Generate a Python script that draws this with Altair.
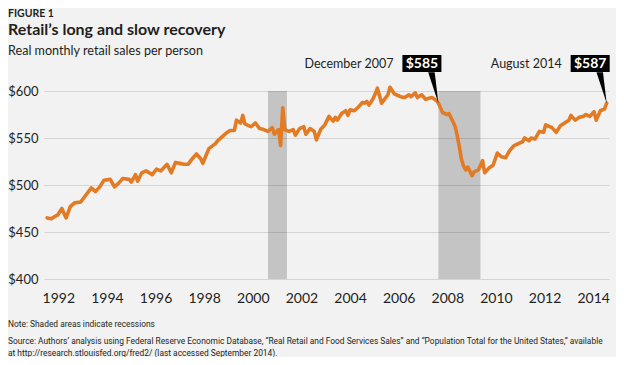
import altair as alt
import pandas as pd

# ---- data ----
MONTHS = [
    "1992-06", "1992-08", "1992-10", "1992-11", "1993-01", "1993-03", "1993-05", "1993-07",
    "1993-10", "1993-12", "1994-03", "1994-05", "1994-07", "1994-09", "1994-12", "1995-02",
    "1995-04", "1995-06", "1995-09", "1995-10", "1995-12", "1996-01", "1996-03", "1996-05",
    "1996-08", "1996-10", "1996-12", "1997-03", "1997-05", "1997-07", "1997-09", "1997-11",
    "1998-01", "1998-03", "1998-05", "1998-07", "1998-08", "1998-10", "1998-11", "1999-02",
    "1999-03", "1999-05", "1999-07", "1999-09", "1999-11", "1999-12", "2000-02", "2000-03",
    "2000-04", "2000-06", "2000-07", "2000-09", "2000-11", "2001-01", "2001-03", "2001-05",
    "2001-06", "2001-08", "2001-09", "2001-10", "2001-11", "2002-01", "2002-03", "2002-04",
    "2002-06", "2002-08", "2002-09", "2002-11", "2003-01", "2003-02", "2003-04", "2003-06",
    "2003-08", "2003-10", "2003-11", "2003-12", "2004-02", "2004-04", "2004-05", "2004-06",
    "2004-08", "2004-10", "2004-12", "2005-01", "2005-02", "2005-03", "2005-05", "2005-06",
    "2005-07", "2005-09", "2005-10", "2005-12", "2006-01", "2006-03", "2006-04", "2006-06",
    "2006-08", "2006-10", "2006-11", "2007-01", "2007-02", "2007-04", "2007-06", "2007-07",
    "2007-09", "2007-11", "2007-12", "2008-02", "2008-04", "2008-05", "2008-07", "2008-08",
    "2008-09", "2008-10", "2008-11", "2008-12", "2009-01", "2009-02", "2009-04", "2009-05",
    "2009-07", "2009-09", "2009-10", "2009-12", "2010-02", "2010-04", "2010-06", "2010-08",
    "2010-10", "2010-12", "2011-04", "2011-05", "2011-07", "2011-08", "2011-10", "2011-12",
    "2012-02", "2012-03", "2012-06", "2012-08", "2012-10", "2012-12", "2013-02", "2013-03",
    "2013-05", "2013-07", "2013-09", "2013-10", "2013-12", "2014-02", "2014-03", "2014-05",
    "2014-07", "2014-08",
]
VALUES = [
    465, 464, 467, 468, 475, 465, 477, 481,
    482, 488, 497, 493, 498, 505, 506, 498,
    502, 507, 506, 503, 511, 504, 513, 515,
    511, 517, 515, 522, 513, 524, 523, 522,
    522, 528, 533, 528, 523, 534, 539, 544,
    547, 551, 555, 558, 558, 569, 566, 574,
    565, 563, 562, 566, 560, 559, 557, 561,
    554, 559, 542, 582, 559, 557, 559, 553,
    560, 562, 554, 560, 557, 548, 559, 564,
    573, 568, 572, 569, 576, 579, 574, 580,
    579, 583, 588, 587, 589, 585, 592, 597,
    603, 587, 590, 596, 604, 597, 596, 594,
    593, 596, 594, 598, 593, 596, 591, 592,
    593, 590, 587, 577, 575, 576, 567, 562,
    552, 540, 527, 520, 516, 519, 510, 514,
    516, 526, 513, 518, 521, 534, 530, 529,
    537, 542, 546, 550, 547, 550, 549, 557,
    556, 564, 561, 556, 563, 566, 569, 574,
    569, 572, 573, 575, 573, 578, 569, 579,
    581, 587,
]
RECESSION_START = ["2001-03", "2007-12"]
RECESSION_END = ["2001-12", "2009-08"]
ANNOT_MONTH = ["2007-12", "2014-08"]
ANNOT_NAME = ["December 2007", "August 2014"]
ANNOT_VALUE = ["$585", "$587"]
YEAR_LABELS = [1992, 1994, 1996, 1998, 2000, 2002, 2004, 2006, 2008, 2010, 2012, 2014]
Y_TICKS = [400, 450, 500, 550, 600]

FIGURE_LABEL = "FIGURE 1"
TITLE = "Retail\u2019s long and slow recovery"
SUBTITLE = "Real monthly retail sales per person"
NOTE = "Note: Shaded areas indicate recessions"
SOURCE_1 = ("Source: Authors\u2019 analysis using Federal Reserve Economic Database, "
            "\u201cReal Retail and Food Services Sales\u201d and \u201cPopulation Total "
            "for the United States,\u201d available")
SOURCE_2 = "at http://research.stlouisfed.org/fred2/ (last accessed September 2014)."


def frac_year(s):
    y, m = s.split("-")
    return int(y) + (int(m) - 1) / 12


n = min(len(MONTHS), len(VALUES))
line_df = pd.DataFrame({"t": [frac_year(s) for s in MONTHS[:n]], "value": VALUES[:n]})
rec_df = pd.DataFrame({"start": [frac_year(s) for s in RECESSION_START],
                       "end": [frac_year(s) for s in RECESSION_END]})
lookup = dict(zip(MONTHS, VALUES))
ann_df = pd.DataFrame({
    "t": [frac_year(s) for s in ANNOT_MONTH],
    "value": [lookup[s] for s in ANNOT_MONTH],
    "name": ANNOT_NAME,
    "label": ANNOT_VALUE,
})

FONT = "Lato"
SMALL_FONT = "Roboto"
TXT = "#231f20"
ORANGE = "#e27b24"

xscale = alt.Scale(domain=[1992.292, 2014.675], nice=False, zero=False)
yscale = alt.Scale(domain=[400, 600], nice=False, zero=False)

label_pos = [1992.86 + (y - 1992) * 0.963 for y in YEAR_LABELS]

x_axis = alt.Axis(values=label_pos,
                  labelExpr="format(round(1992 + (datum.value - 1992.86) / 0.963), 'd')",
                  title=None, grid=False, domain=False, ticks=False,
                  labelFont=FONT, labelFontSize=14, labelColor=TXT,
                  labelPadding=12, labelFlush=False, labelOverlap=False)
y_axis = alt.Axis(values=Y_TICKS, format="$,d", title=None, domain=False, ticks=False,
                  grid=True, gridColor="#d5d5d5", gridWidth=1,
                  labelFont=FONT, labelFontSize=13, labelColor=TXT, labelPadding=6)

bands = alt.Chart(rec_df).mark_rect(color="#000000", opacity=0.19).encode(
    x=alt.X("start:Q", scale=xscale, title=None),
    x2="end:Q",
    y=alt.value(0),
    y2=alt.value(188),
)

line = alt.Chart(line_df).mark_line(color=ORANGE, strokeWidth=3.6,
                                    strokeCap="round", strokeJoin="round").encode(
    x=alt.X("t:Q", scale=xscale, axis=x_axis),
    y=alt.Y("value:Q", scale=yscale, axis=y_axis),
)

pointer = alt.Chart(ann_df).mark_point(
    shape="M0,0L-0.33,-1L-0.12,-1Z", size=3844, filled=True, color="#000000", opacity=1
).encode(
    x=alt.X("t:Q", scale=xscale, title=None),
    y=alt.Y("value:Q", scale=yscale, title=None),
)

box = alt.Chart(ann_df).mark_rect(color="#000000", xOffset=-36, x2Offset=3).encode(
    x=alt.X("t:Q", scale=xscale, title=None),
    x2="t:Q",
    y=alt.value(-36),
    y2=alt.value(-19),
)

box_text = alt.Chart(ann_df).mark_text(
    font=FONT, fontSize=14, fontWeight="bold", color="#ffffff",
    align="center", baseline="middle", dx=-16.5
).encode(
    x=alt.X("t:Q", scale=xscale, title=None),
    y=alt.value(-27.5),
    text="label:N",
)

name_text = alt.Chart(ann_df).mark_text(
    font=FONT, fontSize=12.5, color=TXT, align="right", baseline="alphabetic", dx=-45
).encode(
    x=alt.X("t:Q", scale=xscale, title=None),
    y=alt.value(-23),
    text="name:N",
)


def free_text(txt, y, size, weight="normal", font=FONT):
    kw = dict(font=font, fontSize=size, fontWeight=weight, color=TXT,
              align="left", baseline="alphabetic")
    return alt.Chart(pd.DataFrame({"txt": [txt]})).mark_text(**kw).encode(
        x=alt.value(-36), y=alt.value(y), text="txt:N")


fig_text = free_text(FIGURE_LABEL, -74.5, 10.5, "bold")
title_text = free_text(TITLE, -56, 16, "bold")
sub_text = free_text(SUBTITLE, -36, 12.6)
note_text = free_text(NOTE, 236, 8.4, font=SMALL_FONT)
src1_text = free_text(SOURCE_1, 253, 8.4, font=SMALL_FONT)
src2_text = free_text(SOURCE_2, 265, 8.4, font=SMALL_FONT)

chart = alt.layer(
    bands, line, pointer, box, box_text, name_text,
    fig_text, title_text, sub_text, note_text, src1_text, src2_text,
).properties(
    width=565, height=188,
    background="#f2f2f2",
    padding={"left": 36, "top": 83, "right": 7, "bottom": 78},
    autosize=alt.AutoSizeParams(type="none"),
).configure_view(stroke=None)

chart.save("out.html", embed_options={"renderer": "svg", "actions": False})
